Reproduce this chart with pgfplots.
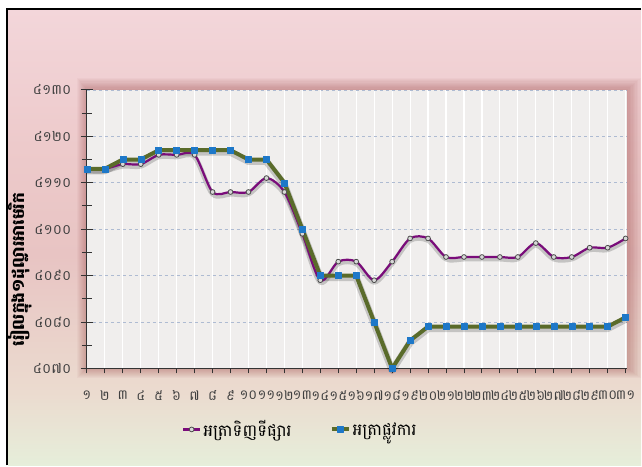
\documentclass[border=0pt]{standalone}
\usepackage{fontspec}
\usepackage{pgfplots}
\pgfplotsset{compat=1.18}
\newfontfamily\khmer[Script=Khmer]{Battambang}
\definecolor{bgtop}{HTML}{F3D6DA}
\definecolor{bgup}{HTML}{EDCACB}
\definecolor{bgmid}{HTML}{E8C4C3}
\definecolor{bglow}{HTML}{EBDBCF}
\definecolor{bgbot}{HTML}{E6EEDA}
\definecolor{plotbg}{HTML}{F0EEED}
\definecolor{shadowc}{HTML}{8A2A2A}
\definecolor{mktc}{HTML}{7A0C7A}
\definecolor{offc}{HTML}{5A6B2A}
\definecolor{sqc}{HTML}{1E78C8}
\definecolor{gridc}{HTML}{AEBBD2}
\pgfdeclareverticalshading{bgshade}{100bp}{color(0bp)=(bgbot); color(25bp)=(bgbot); color(33bp)=(bglow); color(48bp)=(bgmid); color(60bp)=(bgup); color(75bp)=(bgtop); color(100bp)=(bgtop)}
\begin{document}
\begin{tikzpicture}[x=1pt,y=1pt]
\fill[white] (-87,-97) rectangle (555,369);
\shade[shading=bgshade] (-79,-97) rectangle (555,359);
\draw[black, line width=2pt] (-80,-97) -- (-80,360) -- (555,360);
\foreach \i in {1,...,10}{
  \fill[shadowc, opacity=0.035] (-\i*1.0, -\i*1.0) rectangle (541+\i*1.4, 279+\i*1.2);
}
\begin{axis}[
  at={(0,0)}, anchor=south west,
  width=541pt, height=279pt, scale only axis,
  xmin=1, xmax=31.08, ymin=4070, ymax=4130,
  axis background/.style={fill=plotbg},
  axis lines=left, axis line style={-, draw=black!80, line width=1pt},
  xtick={1,...,31},
  xticklabels={១,២,៣,៤,៥,៦,៧,៨,៩,១០,១១,១២,១៣,១៤,១៥,១៦,១៧,១៨,១៩,២០,២១,២២,២៣,២៤,២៥,២៦,២៧,២៨,២៩,៣០,៣១},
  ytick={4070,4080,...,4130},
  yticklabels={៤០៧០,៤០៨០,៤០៩០,៤១០០,៤១១០,៤១២០,៤១៣០},
  minor ytick={4075,4085,...,4125},
  xtick align=outside, ytick align=center,
  major tick length=12pt, minor tick length=10pt,
  xtick style={/pgfplots/major tick length=5pt},
  tick style={draw=black!80, line width=0.9pt},
  xticklabel style={font=\khmer\fontsize{13.5}{14}\selectfont, text=black!75, yshift=-7pt},
  yticklabel style={font=\khmer\fontsize{14}{15}\selectfont, text=black!75, xshift=-6pt},
  xmajorgrids, ymajorgrids,
  x grid style={white, line width=1.2pt},
  y grid style={gridc, dashed, line width=0.6pt},
  ylabel={\bfseries រៀលក្នុង១ដុល្លារអាមេរិក},
  ylabel style={font=\khmer\fontsize{17}{18}\selectfont, at={(axis description cs:-0.124,0.355)}, anchor=center},
  legend style={at={(axis description cs:0.395,-0.219)}, anchor=center, draw=none, fill=none,
    font=\khmer\fontsize{16.5}{17}\selectfont, legend columns=2,
    /tikz/every even column/.append style={column sep=36pt}},
  clip=false,
]
% shadows
\addplot[forget plot, black, opacity=0.18, line width=5pt, smooth, tension=0.5, yshift=-2pt, line join=round] coordinates {
(1,4113)(2,4113)(3,4114)(4,4114)(5,4116)(6,4116)(7,4116)(8,4108)(9,4108)(10,4108)(11,4111)(12,4108)(13,4099)(14,4089)(15,4093)(16,4093)(17,4089)(18,4093)(19,4098)(20,4098)(21,4094)(22,4094)(23,4094)(24,4094)(25,4094)(26,4097)(27,4094)(28,4094)(29,4096)(30,4096)(31,4098)};
\addplot[forget plot, black, opacity=0.18, line width=7pt, yshift=-2pt, line join=round] coordinates {
(1,4113)(2,4113)(3,4115)(4,4115)(5,4117)(6,4117)(7,4117)(8,4117)(9,4117)(10,4115)(11,4115)(12,4110)(13,4100)(14,4090)(15,4090)(16,4090)(17,4080)(18,4070)(19,4076)(20,4079)(21,4079)(22,4079)(23,4079)(24,4079)(25,4079)(26,4079)(27,4079)(28,4079)(29,4079)(30,4079)(31,4081)};
% market rate
\addplot[mktc, line width=2.2pt, smooth, tension=0.5, mark=*, mark size=2.4pt,
  mark options={fill=black!15, draw=black!70, line width=0.8pt}] coordinates {
(1,4113)(2,4113)(3,4114)(4,4114)(5,4116)(6,4116)(7,4116)(8,4108)(9,4108)(10,4108)(11,4111)(12,4108)(13,4099)(14,4089)(15,4093)(16,4093)(17,4089)(18,4093)(19,4098)(20,4098)(21,4094)(22,4094)(23,4094)(24,4094)(25,4094)(26,4097)(27,4094)(28,4094)(29,4096)(30,4096)(31,4098)};
\addlegendentry{អត្រាទិញទីផ្សារ}
% official rate
\addplot[offc, line width=4pt, line join=round, mark=square*, mark size=3pt,
  mark options={fill=sqc, draw=sqc, line width=0.4pt}] coordinates {
(1,4113)(2,4113)(3,4115)(4,4115)(5,4117)(6,4117)(7,4117)(8,4117)(9,4117)(10,4115)(11,4115)(12,4110)(13,4100)(14,4090)(15,4090)(16,4090)(17,4080)(18,4070)(19,4076)(20,4079)(21,4079)(22,4079)(23,4079)(24,4079)(25,4079)(26,4079)(27,4079)(28,4079)(29,4079)(30,4079)(31,4081)};
\addlegendentry{អត្រាផ្លូវការ}
\end{axis}
\end{tikzpicture}
\end{document}
